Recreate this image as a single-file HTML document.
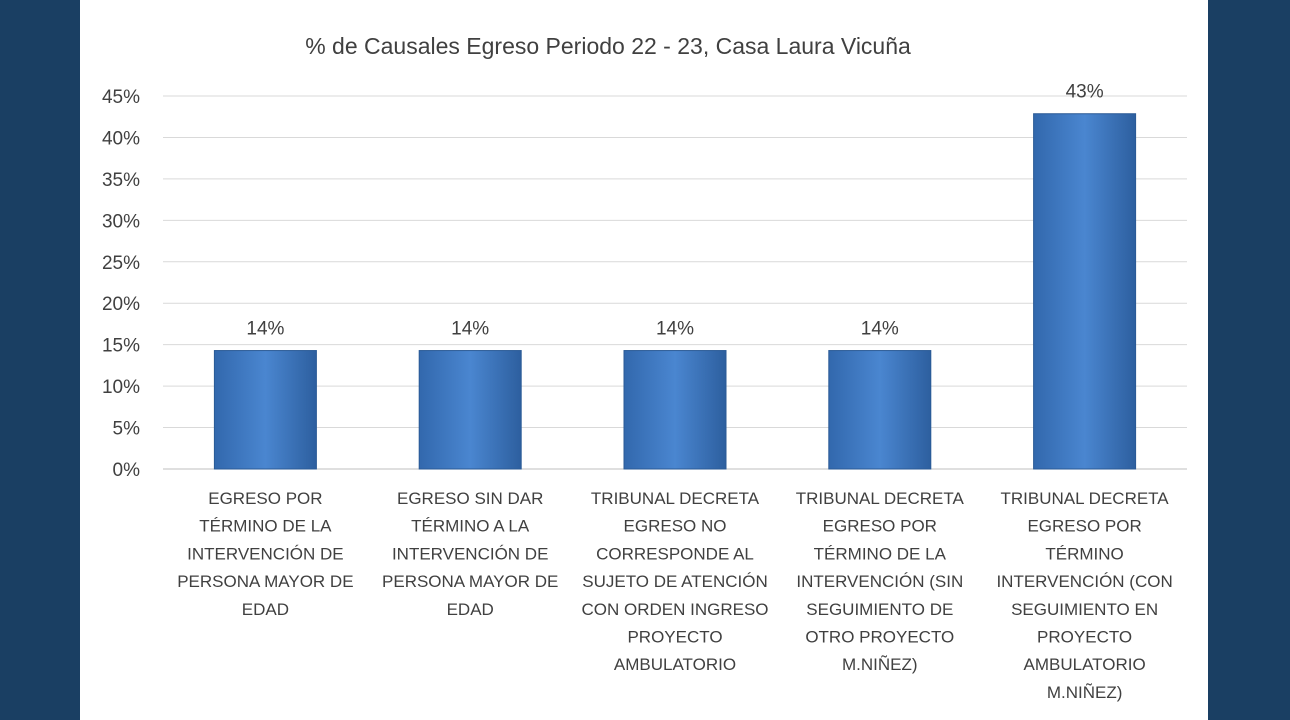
<!DOCTYPE html>
<html><head><meta charset="utf-8"><style>
body{margin:0;width:1290px;height:720px;background:#1a3f63;overflow:hidden;font-family:"Liberation Sans",sans-serif}
#panel{position:absolute;left:80px;top:0;width:1128px;height:720px;background:#fff}
svg{position:absolute;left:0;top:0}
</style></head><body>
<div id="panel"></div>
<svg id="chart" width="1290" height="720">
<defs>
<linearGradient id="g" x1="0" x2="1" y1="0" y2="0">
<stop offset="0" stop-color="#3268ad"/><stop offset="0.5" stop-color="#4a86d0"/><stop offset="1" stop-color="#2d5f9f"/>
</linearGradient>
</defs>
<text x="608" y="54" text-anchor="middle" font-size="23" fill="#404040">% de Causales Egreso Periodo 22 - 23, Casa Laura Vicuña</text>
</svg>
<script>
const categories=[
["EGRESO POR","TÉRMINO DE LA","INTERVENCIÓN DE","PERSONA MAYOR DE","EDAD"],
["EGRESO SIN DAR","TÉRMINO A LA","INTERVENCIÓN DE","PERSONA MAYOR DE","EDAD"],
["TRIBUNAL DECRETA","EGRESO NO","CORRESPONDE AL","SUJETO DE ATENCIÓN","CON ORDEN INGRESO","PROYECTO","AMBULATORIO"],
["TRIBUNAL DECRETA","EGRESO POR","TÉRMINO DE LA","INTERVENCIÓN (SIN","SEGUIMIENTO DE","OTRO PROYECTO","M.NIÑEZ)"],
["TRIBUNAL DECRETA","EGRESO POR","TÉRMINO","INTERVENCIÓN (CON","SEGUIMIENTO EN","PROYECTO","AMBULATORIO","M.NIÑEZ)"]];
const values=[14.29,14.29,14.29,14.29,42.86];
const valueLabels=["14%","14%","14%","14%","43%"];
const ticks=[0,5,10,15,20,25,30,35,40,45];
const svg=document.getElementById('chart');const NS="http://www.w3.org/2000/svg";
const x0=163,x1=1187,y0=469,yTop=96,maxV=45;
const y=v=>y0-(v/maxV)*(y0-yTop);
const bw=(x1-x0)/values.length;
function mk(t,a){const e=document.createElementNS(NS,t);for(const k in a)e.setAttribute(k,a[k]);svg.appendChild(e);return e;}
ticks.forEach(t=>{
const l=mk('line',{x1:x0,x2:x1,y1:y(t),y2:y(t),stroke:t===0?'#bfbfbf':'#d9d9d9','stroke-width':1});


const tx=mk('text',{x:140,y:y(t)+7,'text-anchor':'end','font-size':19,fill:'#404040'});tx.textContent=t+'%';


});
values.forEach((v,i)=>{
const cx=x0+bw*(i+0.5),w=102;
const r=mk('rect',{x:cx-w/2,y:y(v),width:w,height:y0-y(v),fill:'url(#g)',stroke:'#2a5a96','stroke-width':1});


const lb=mk('text',{x:cx,y:y(v)-16,'text-anchor':'middle','font-size':19,fill:'#404040'});lb.textContent=valueLabels[i];


categories[i].forEach((s,j)=>{
const t=mk('text',{x:cx,y:504+j*27.7,'text-anchor':'middle','font-size':17,fill:'#404040'});t.textContent=s;


});
});
</script>
</body></html>
